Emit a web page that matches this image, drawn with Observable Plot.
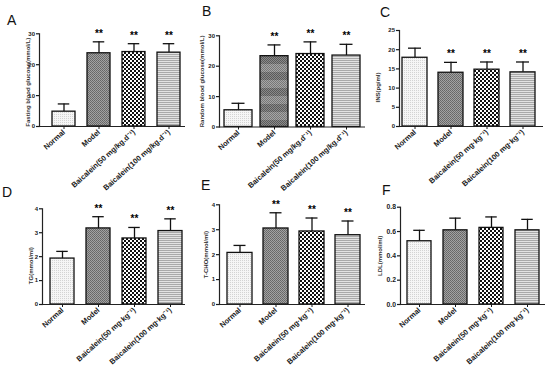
<!DOCTYPE html>
<html><head><meta charset="utf-8">
<script src="https://cdn.jsdelivr.net/npm/d3@7"></script>
<script src="https://cdn.jsdelivr.net/npm/@observablehq/plot@0.6"></script>
<style>
body{margin:0;background:#fff;}
#wrap{position:relative;width:550px;height:377px;overflow:hidden;background:#fff;}
.letter{position:absolute;font:14px "Liberation Sans",Arial,sans-serif;line-height:1;color:#111;}
</style></head><body>
<svg width="0" height="0" style="position:absolute">
<defs>
<pattern id="pNormal" patternUnits="userSpaceOnUse" width="2" height="2">
<rect width="2" height="2" fill="#f6f6f6"/><rect width="1" height="1" fill="#d4d4d4"/>
</pattern>
<pattern id="pModel" patternUnits="userSpaceOnUse" width="2" height="2">
<rect width="2" height="2" fill="#a2a2a2"/><rect width="1" height="1" fill="#666"/><rect x="1" y="1" width="1" height="1" fill="#6e6e6e"/>
</pattern>
<pattern id="pModelBand" patternUnits="userSpaceOnUse" width="2" height="16">
<rect width="2" height="16" fill="#a6a6a6"/>
<rect width="1" height="1" fill="#777"/><rect x="1" y="1" width="1" height="1" fill="#777"/>
<rect y="2" width="1" height="1" fill="#777"/><rect x="1" y="3" width="1" height="1" fill="#777"/>
<rect y="4" width="1" height="1" fill="#777"/><rect x="1" y="5" width="1" height="1" fill="#777"/>
<rect y="6" width="1" height="1" fill="#777"/><rect x="1" y="7" width="1" height="1" fill="#777"/>
<rect y="8" width="2" height="8" fill="#8a8a8a"/>
<rect y="8" width="1" height="1" fill="#5a5a5a"/><rect x="1" y="9" width="1" height="1" fill="#5a5a5a"/>
<rect y="10" width="1" height="1" fill="#5a5a5a"/><rect x="1" y="11" width="1" height="1" fill="#5a5a5a"/>
<rect y="12" width="1" height="1" fill="#5a5a5a"/><rect x="1" y="13" width="1" height="1" fill="#5a5a5a"/>
<rect y="14" width="1" height="1" fill="#5a5a5a"/><rect x="1" y="15" width="1" height="1" fill="#5a5a5a"/>
</pattern>
<pattern id="pB50" patternUnits="userSpaceOnUse" width="4" height="4">
<rect width="4" height="4" fill="#fff"/><rect width="2" height="2" fill="#111"/><rect x="2" y="2" width="2" height="2" fill="#111"/>
</pattern>
<pattern id="pB100" patternUnits="userSpaceOnUse" width="4" height="2">
<rect width="4" height="2" fill="#e2e2e2"/><rect width="4" height="1" fill="#a9a9a9"/>
</pattern>
</defs></svg>
<div id="wrap"></div>
<script>
// ---- data ----
const groups = ["Normal", "Model", "Baicalein50", "Baicalein100"];
const labelsGlu = ["Normal", "Model", "Baicalein(50 mg/kg.d⁻¹)", "Baicalein(100 mg/kg.d⁻¹)"];
const labelsLip = ["Normal", "Model", "Baicalein(50 mg·kg⁻¹)", "Baicalein(100 mg·kg⁻¹)"];

const fbgMean = [4.8, 23.7, 24.1, 23.9];
const fbgSD   = [2.5, 3.7, 2.7, 2.9];
const rbgMean = [5.5, 23.3, 24.0, 23.5];
const rbgSD   = [2.3, 3.7, 4.0, 3.7];
const insMean = [17.9, 14.0, 14.8, 14.1];
const insSD   = [2.5, 2.7, 2.0, 2.7];
const tgMean  = [1.92, 3.18, 2.76, 3.07];
const tgSD    = [0.30, 0.49, 0.46, 0.51];
const tchoMean = [2.07, 3.05, 2.93, 2.78];
const tchoSD   = [0.30, 0.63, 0.54, 0.57];
const ldlMean = [0.52, 0.61, 0.63, 0.61];
const ldlSD   = [0.09, 0.10, 0.09, 0.09];

const sigStars = ["", "**", "**", "**"];
const sigNone  = ["", "", "", ""];

const ticks30 = [0, 10, 20, 30];
const ticks25 = [0, 5, 10, 15, 20, 25];
const ticks4  = [0, 1, 2, 3, 4];
const ticks08 = [0, 0.2, 0.4, 0.6, 0.8];

const patterns = ["url(#pNormal)", "url(#pModel)", "url(#pB50)", "url(#pB100)"];
const patternsBanded = ["url(#pNormal)", "url(#pModelBand)", "url(#pB50)", "url(#pB100)"];

// ---- layout (page pixels) ----
const panels = [
  {letter:"A", lx:7, ly:13, title:"Fasting blood glucose(mmol/L)", means:fbgMean, sds:fbgSD, sig:sigStars, labels:labelsGlu, pats:patterns,
   max:30, ticks:ticks30, fmt:d=>d, tickFs:6, axisX:39, axisEnd:185, y0:126, yTop:33.3, s0:52, s1:181, bw:23.5, cap:12, titleOff:11, titleDy:2},
  {letter:"B", lx:202, ly:4, title:"Random blood glucose(mmol/L)", means:rbgMean, sds:rbgSD, sig:sigStars, labels:labelsGlu, pats:patternsBanded,
   max:30, ticks:ticks30, fmt:d=>d, tickFs:6, axisX:219, axisEnd:365, y0:126.5, yTop:35.3, s0:223, s1:360, bw:28, cap:13, titleOff:17.5, titleDy:0},
  {letter:"C", lx:380, ly:5, title:"INS(pg/ml)", means:insMean, sds:insSD, sig:sigStars, labels:labelsLip, pats:patterns,
   max:25, ticks:ticks25, fmt:d=>d, tickFs:6, axisX:399, axisEnd:543, y0:126, yTop:30, s0:402, s1:535, bw:25, cap:13, titleOff:21, titleDy:9},
  {letter:"D", lx:2, ly:185, title:"TG(mmol/ml)", means:tgMean, sds:tgSD, sig:sigStars, labels:labelsLip, pats:patterns,
   max:4, ticks:ticks4, fmt:d=>d, tickFs:6, axisX:42, axisEnd:185, y0:304, yTop:208.3, s0:50, s1:183, bw:24.5, cap:12, titleOff:11.5, titleDy:9},
  {letter:"E", lx:201, ly:178, title:"T-CHO(mmol/ml)", means:tchoMean, sds:tchoSD, sig:sigStars, labels:labelsLip, pats:patterns,
   max:4, ticks:ticks4, fmt:d=>d, tickFs:6, axisX:219, axisEnd:365, y0:304, yTop:204.3, s0:226, s1:360, bw:25, cap:12, titleOff:13, titleDy:0},
  {letter:"F", lx:382, ly:183, title:"LDL(mmol/ml)", means:ldlMean, sds:ldlSD, sig:sigNone, labels:labelsLip, pats:patterns,
   max:0.8, ticks:ticks08, fmt:d=>d.toFixed(1), tickFs:6.8, axisX:400, axisEnd:545, y0:304, yTop:206.7, s0:406, s1:540, bw:24.5, cap:12, titleOff:20.5, titleDy:0}
];

const W = 550, H = 377;
const wrap = document.getElementById("wrap");

for (const p of panels) {
  const step = (p.s1 - p.s0 - p.bw) / 3;
  const pad = 1 - p.bw / step;
  const data = groups.map((g, i) => ({g, mean: p.means[i], top: p.means[i] + p.sds[i], sig: p.sig[i], fill: p.pats[i]}));
  const chart = Plot.plot({
    width: W, height: H,
    marginLeft: p.axisX, marginRight: W - p.axisEnd, marginTop: p.yTop, marginBottom: H - p.y0,
    style: "background:transparent;overflow:visible;font-family:'Liberation Sans',Arial,sans-serif;font-weight:bold;color:#1a1a1a;position:absolute;left:0;top:0;",
    x: {domain: groups, range: [p.s0, p.s1], paddingInner: pad, paddingOuter: 0, axis: null},
    y: {domain: [0, p.max], axis: null},
    color: {type: "identity"},
    marks: [
      Plot.ruleX(data, {x: "g", y1: "mean", y2: "top", stroke: "#111", strokeWidth: 1.3}),
      Plot.tickY(data, {x: "g", y: "top", stroke: "#111", strokeWidth: 1.3, inset: (p.bw - p.cap) / 2}),
      Plot.barY(data, {x: "g", y: "mean", fill: "fill", stroke: "#111", strokeWidth: 1.3}),
      Plot.text(data.filter(d => d.sig), {x: "g", y: "top", text: "sig", fontSize: 10, lineAnchor: "bottom", dy: -5, fill: "#000"}),
      Plot.ruleY([0], {stroke: "#222", strokeWidth: 1.2}),
      Plot.frame({anchor: "left", stroke: "#222", strokeWidth: 1.2}),
      Plot.axisY({ticks: p.ticks, tickSize: 3, tickPadding: 1.5, fontSize: p.tickFs, tickFormat: p.fmt, label: null, strokeWidth: 1.2}),
      Plot.axisX({tickSize: 3, tickPadding: 1.5, tickRotate: -42, fontSize: 7.5, tickFormat: d => p.labels[groups.indexOf(d)], label: null}),
      Plot.text([p.title], {frameAnchor: "left", textAnchor: "middle", rotate: -90, dx: -p.titleOff, dy: p.titleDy, fontSize: 6, fill: "#333"})
    ]
  });
  wrap.appendChild(chart);
  const L = document.createElement("div");
  L.className = "letter";
  L.textContent = p.letter;
  L.style.left = p.lx + "px";
  L.style.top = p.ly + "px";
  wrap.appendChild(L);
}
</script>
</body></html>
